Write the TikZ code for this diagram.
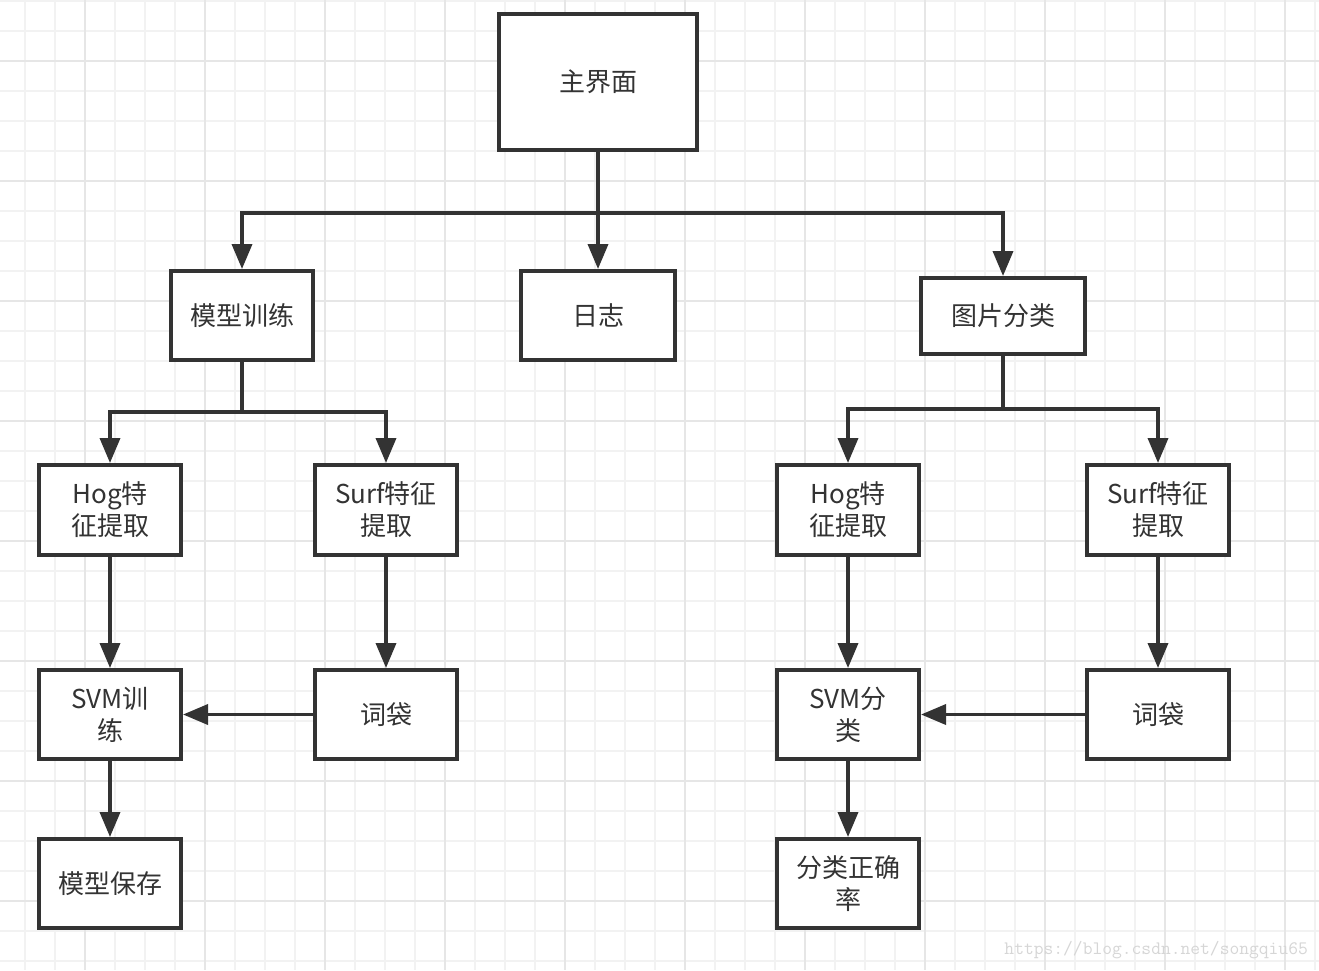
\documentclass[tikz,border=0pt]{standalone}
\usepackage{fontspec}
\newfontfamily\cjk{Noto Sans CJK SC}
\usetikzlibrary{arrows.meta}
\definecolor{ink}{HTML}{333333}
\definecolor{gridminor}{HTML}{F2F2F2}
\definecolor{gridmajor}{HTML}{E6E6E6}
\definecolor{wm}{HTML}{D6D6D6}
\begin{document}
\begin{tikzpicture}[x=1pt,y=-1pt,
  box/.style={draw=ink, line width=3.6pt, fill=white, text=ink,
    font=\cjk\fontsize{26}{32}\selectfont, align=center, inner sep=0pt},
  conn/.style={draw=ink, line width=3.6pt},
  arr/.style={conn, -{Triangle[length=25pt,width=20pt]}}]
\useasboundingbox[fill=white] (0,0) rectangle (1319,970);
% grid
\foreach \x in {25,55,...,1315} \draw[gridminor, line width=2pt] (\x,0) -- (\x,970);
\foreach \y in {1,31,...,961} \draw[gridminor, line width=2pt] (0,\y) -- (1319,\y);
\foreach \x in {85,205,...,1285} \draw[gridmajor, line width=2pt] (\x,0) -- (\x,970);
\foreach \y in {61,181,...,901} \draw[gridmajor, line width=2pt] (0,\y) -- (1319,\y);
% nodes
\node[box, minimum width=198.4pt, minimum height=136.4pt] (main) at (598,82) {主界面};
\node[box, minimum width=142.4pt, minimum height=89.4pt] (train) at (242,315.5) {模型训练};
\node[box, minimum width=154.4pt, minimum height=89.4pt] (log) at (598,315.5) {日志};
\node[box, minimum width=164.4pt, minimum height=76.4pt] (classify) at (1003,316) {图片分类};
\node[box, minimum width=142.4pt, minimum height=90.4pt] (hogL) at (110,510) {Hog特\\征提取};
\node[box, minimum width=142.4pt, minimum height=90.4pt] (surfL) at (386,510) {Surf特征\\提取};
\node[box, minimum width=142.4pt, minimum height=89.4pt] (svmL) at (110,714.5) {SVM训\\练};
\node[box, minimum width=142.4pt, minimum height=89.4pt] (bowL) at (386,714.5) {词袋};
\node[box, minimum width=142.4pt, minimum height=89.4pt] (saveL) at (110,883.5) {模型保存};
\node[box, minimum width=142.4pt, minimum height=90.4pt] (hogR) at (848,510) {Hog特\\征提取};
\node[box, minimum width=142.4pt, minimum height=90.4pt] (surfR) at (1158,510) {Surf特征\\提取};
\node[box, minimum width=142.4pt, minimum height=89.4pt] (svmR) at (848,714.5) {SVM分\\类};
\node[box, minimum width=142.4pt, minimum height=89.4pt] (bowR) at (1158,714.5) {词袋};
\node[box, minimum width=142.4pt, minimum height=89.4pt] (accR) at (848,883.5) {分类正确\\率};
% junctions
\coordinate (j1) at (598,213);
\coordinate (j2) at (242,412);
\coordinate (j3) at (1003,409);
% connectors
\draw[conn] (main.south) -- (j1);
\draw[arr] (j1) -| (train.north);
\draw[arr] (j1) -- (log.north);
\draw[arr] (j1) -| (classify.north);
\draw[conn] (train.south) -- (j2);
\draw[arr] (j2) -| (hogL.north);
\draw[arr] (j2) -| (surfL.north);
\draw[conn] (classify.south) -- (j3);
\draw[arr] (j3) -| (hogR.north);
\draw[arr] (j3) -| (surfR.north);
\draw[arr] (hogL.south) -- (svmL.north);
\draw[arr] (svmL.south) -- (saveL.north);
\draw[arr] (surfL.south) -- (bowL.north);
\draw[arr] (bowL.west) -- (svmL.east);
\draw[arr] (hogR.south) -- (svmR.north);
\draw[arr] (svmR.south) -- (accR.north);
\draw[arr] (surfR.south) -- (bowR.north);
\draw[arr] (bowR.west) -- (svmR.east);
% watermark
\node[font=\ttfamily\fontsize{19}{19}\selectfont, text=wm, anchor=east, inner sep=0pt] (wmk) at (1308,950) {https://blog.csdn.net/songqiu65};
\end{tikzpicture}
\end{document}
